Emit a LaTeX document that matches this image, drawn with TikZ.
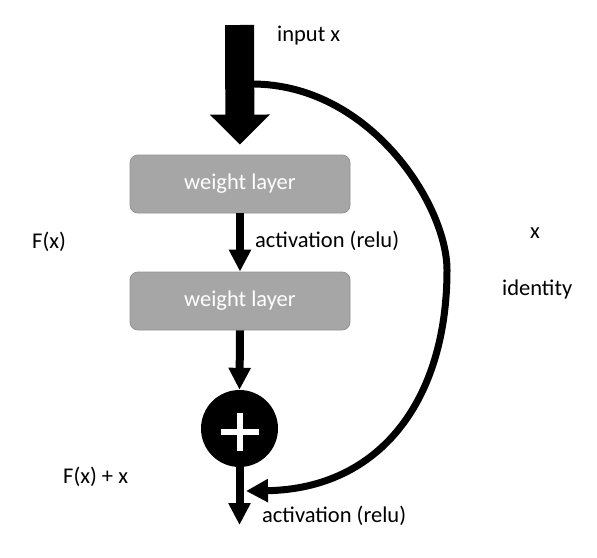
\documentclass[tikz,border=0pt]{standalone}
\usepackage{fontspec}
\setmainfont{Carlito}
\usetikzlibrary{arrows.meta}
\definecolor{boxfill}{HTML}{A6A6A6}
\definecolor{boxborder}{HTML}{939393}
\begin{document}
\begin{tikzpicture}[x=1pt,y=-1pt,
  font=\fontsize{22.5}{27}\selectfont,
  layer/.style={draw=boxborder, fill=boxfill, rounded corners=8pt, minimum width=220pt, minimum height=58pt, inner sep=0pt, text=white, line width=0.8pt},
  lbl/.style={anchor=base west, inner sep=0pt},
  flow/.style={line width=8pt, -{Triangle[width=21pt,length=22pt]}},
  bigflow/.style={line width=29pt, -{Triangle[width=58pt,length=30pt]}},
  skipflow/.style={line width=7pt, -{Triangle[width=22pt,length=22pt]}},
  plusbar/.style={white, line width=6pt}
]
\useasboundingbox (0,0) rectangle (597,557);
\node[layer] (w1) at (240,184) {weight layer};
\node[layer] (w2) at (240,301) {weight layer};
\node[circle, fill=black, minimum size=77pt, inner sep=0pt] (sum) at (239.5,428.5) {};
\coordinate (in) at (239.5,25);
\coordinate (out) at (239.5,525);
\coordinate (skip) at (252,84);
\coordinate (far) at (447,270);
\coordinate (join) at (246,491);
\draw[bigflow, shorten >=10pt] (in) -- (w1.north);
\draw[flow] (w1.south) -- (w2.north);
\draw[flow] (w2.south) -- (sum.north);
\draw[flow] (sum.south) -- (out);
\draw[skipflow] (skip) .. controls (370,84) and (447,205) .. (far)
  .. controls (447,400) and (380,489) .. (join);
\draw[plusbar] ([xshift=-19pt,yshift=-3pt]sum.center) -- ([xshift=19pt,yshift=-3pt]sum.center);
\draw[plusbar] ([yshift=16pt]sum.center) -- ([yshift=-22pt]sum.center);
\node[lbl] (tin) at (277,41) {input x};
\node[lbl] (ta1) at (255,247) {activation (relu)};
\node[lbl] (tfx) at (32,248) {F(x)};
\node[lbl] (tx) at (530,238) {x};
\node[lbl] (tid) at (502,295) {identity};
\node[lbl] (tfxx) at (63,483) {F(x) + x};
\node[lbl] (ta2) at (262,522) {activation (relu)};
\end{tikzpicture}
\end{document}
